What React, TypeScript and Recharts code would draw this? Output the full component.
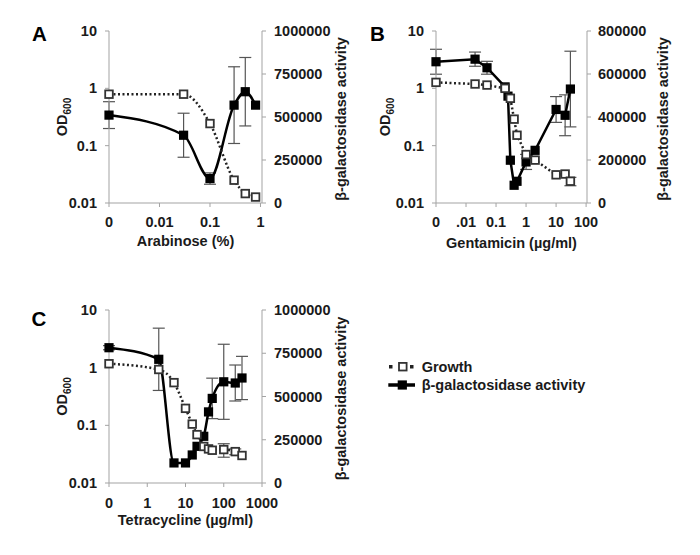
import React from 'react';
import { ComposedChart, Line, XAxis, YAxis, ErrorBar, Legend } from 'recharts';

const FONT = '"Liberation Sans", Arial, Helvetica, sans-serif';
const INK = '#1a1a1a';
const AXIS = '#a3a3a3';
const FS = 14.5;

// ---------- Panel A : Arabinose ----------
const arabinoseConc = [0, 0.03, 0.1, 0.3, 0.5, 0.8];
const arabinoseGrowth = [0.79, 0.79, 0.243, 0.025, 0.0146, 0.0127];
const arabinoseGrowthErr = [0, 0, 0, 0, 0, 0];
const arabinoseBgal = [511000, 394000, 142000, 569000, 647000, 569000];
const arabinoseBgalErr = [78000, 128000, 33000, 223000, 199000, 0];
const arabinoseTickConc = [0, 0.01, 0.1, 1];
const arabinoseTickLabels = ['0', '0.01', '0.1', '1'];

// ---------- Panel B : Gentamicin ----------
const gentaGrowthConc = [0, 0.02, 0.05, 0.2, 0.3, 0.4, 0.5, 1, 2, 10, 20, 30];
const gentaGrowth = [1.27, 1.19, 1.14, 1.0, 0.67, 0.29, 0.152, 0.07, 0.056, 0.031, 0.032, 0.024];
const gentaGrowthErr = [0, 0, 0, 0, 0, 0, 0, 0, 0, 0, 0, 0.004];
const gentaBgalConc = [0, 0.02, 0.05, 0.2, 0.25, 0.3, 0.4, 0.5, 1, 2, 10, 20, 30];
const gentaBgal = [657000, 669000, 629000, 540000, 497000, 199000, 82500, 101000, 191000, 245000, 435000, 408000, 530000];
const gentaBgalErr = [58000, 33000, 30000, 0, 0, 0, 0, 0, 35000, 0, 60000, 95000, 176000];
const gentaTickConc = [0, 0.01, 0.1, 1, 10, 100];
const gentaTickLabels = ['0', '.01', '0.1', '1', '10', '100'];

// ---------- Panel C : Tetracycline ----------
const tetraConc = [0, 2, 5, 10, 15, 20, 30, 40, 50, 100, 200, 300];
const tetraGrowth = [1.17, 0.93, 0.55, 0.197, 0.105, 0.069, 0.043, 0.039, 0.037, 0.038, 0.035, 0.03];
const tetraGrowthErr = [0, 0, 0, 0, 0, 0, 0, 0, 0, 0.01, 0.004, 0];
const tetraBgal = [782000, 715000, 116000, 116000, 162000, 212000, 270000, 411000, 489000, 585000, 578000, 607000];
const tetraBgalErr = [12000, 180000, 0, 0, 0, 0, 0, 0, 117000, 217000, 104000, 125000];
const tetraTickConc = [0, 1, 10, 100, 1000];
const tetraTickLabels = ['0', '1', '10', '100', '1000'];

// ---------- shared axes ----------
const odTicks = [0.01, 0.1, 1, 10];
const bgalTicksA = [0, 250000, 500000, 750000, 1000000];
const bgalTicksB = [0, 200000, 400000, 600000, 800000];

const logPos = (c: number, zeroAt: number) => (c === 0 ? zeroAt : Math.log10(c));

const tickStyle = { fill: INK, fontSize: FS, fontWeight: 'bold', fontFamily: FONT };

const filledSquare = (props: any) => {
  const { cx, cy, index } = props;
  if (cx == null || cy == null) return <g key={`f${index}`} />;
  return <rect key={`f${index}`} x={cx - 4.6} y={cy - 4.6} width={9.2} height={9.2} fill="#000" />;
};

const openSquare = (props: any) => {
  const { cx, cy, index } = props;
  if (cx == null || cy == null) return <g key={`o${index}`} />;
  return (
    <rect key={`o${index}`} x={cx - 3.8} y={cy - 3.8} width={7.6} height={7.6} fill="#fff" stroke="#333" strokeWidth={1.8} />
  );
};

const renderLegend = () => (
  <svg width={240} height={42} style={{ display: 'block', overflow: 'visible' }}>
    <line x1={9} x2={34} y1={10.7} y2={10.7} stroke="#222" strokeWidth={3.5} strokeDasharray="3.5 17.5" />
    <rect x={19} y={6.9} width={7.6} height={7.6} fill="#fff" stroke="#333" strokeWidth={1.8} />
    <text x={41.7} y={16} fill={INK} fontSize={FS} fontWeight="bold" fontFamily={FONT}>Growth</text>
    <line x1={8.3} x2={35} y1={29} y2={29} stroke="#000" strokeWidth={3.5} />
    <rect x={17.7} y={24.4} width={9.2} height={9.2} fill="#000" />
    <text x={41.7} y={34.3} fill={INK} fontSize={FS} fontWeight="bold" fontFamily={FONT}>β-galactosidase activity</text>
  </svg>
);

type PanelProps = {
  left: number; top: number; width: number; height: number;
  plotTop: number; plotBottom: number; leftW: number; rightW: number;
  xDomain: [number, number]; zeroAt: number;
  tickConc: number[]; tickLabels: string[]; xTitle: string;
  growthConc: number[]; growth: number[]; growthErr: number[];
  bgalConc: number[]; bgal: number[]; bgalErr: number[];
  bgalMax: number; bgalTicks: number[];
  curve: 'monotone' | 'linear';
  odTitleX: number; bgalTitleX: number; xTitleY: number;
  xTickMargin: number; rightTickMargin: number;
  withLegend?: boolean;
};

function Panel(p: PanelProps) {
  const growthData = p.growthConc.map((c, i) => ({ x: logPos(c, p.zeroAt), y: p.growth[i], err: p.growthErr[i] }));
  const bgalData = p.bgalConc.map((c, i) => ({ x: logPos(c, p.zeroAt), y: p.bgal[i], err: p.bgalErr[i] }));
  const tickPos = p.tickConc.map((c) => logPos(c, p.zeroAt));
  const fmtX = (v: number) => {
    const i = tickPos.findIndex((t) => Math.abs(t - v) < 1e-6);
    return i >= 0 ? p.tickLabels[i] : '';
  };
  const midY = (p.plotTop + p.plotBottom) / 2;
  const plotRight = p.width - p.rightW;
  const midX = (p.leftW + plotRight) / 2;

  const odTitle = () => (
    <text
      x={p.odTitleX}
      y={midY}
      transform={`rotate(-90 ${p.odTitleX} ${midY})`}
      textAnchor="middle"
      fill={INK}
      fontSize={FS}
      fontWeight="bold"
      fontFamily={FONT}
    >
      OD<tspan fontSize={10} dy={4}>600</tspan>
    </text>
  );
  const bgalTitle = () => (
    <text
      x={p.bgalTitleX}
      y={midY + 2}
      transform={`rotate(-90 ${p.bgalTitleX} ${midY + 2})`}
      textAnchor="middle"
      fill={INK}
      fontSize={FS}
      fontWeight="bold"
      fontFamily={FONT}
    >
      β-galactosidase activity
    </text>
  );
  const xTitle = () => (
    <text x={midX} y={p.xTitleY} textAnchor="middle" fill={INK} fontSize={FS} fontWeight="bold" fontFamily={FONT}>
      {p.xTitle}
    </text>
  );

  return (
    <div style={{ position: 'absolute', left: p.left, top: p.top }}>
      <ComposedChart width={p.width} height={p.height} margin={{ top: p.plotTop, right: 0, bottom: 0, left: 0 }}>
        <XAxis
          type="number"
          dataKey="x"
          domain={p.xDomain}
          ticks={tickPos}
          tickFormatter={fmtX}
          interval={0}
          height={p.height - p.plotBottom}
          axisLine={{ stroke: AXIS }}
          tickLine={{ stroke: AXIS }}
          tickSize={4}
          tickMargin={p.xTickMargin}
          tick={tickStyle}
          label={{ content: xTitle }}
        />
        <YAxis
          yAxisId="od"
          orientation="left"
          scale="log"
          domain={[0.01, 10]}
          ticks={odTicks}
          tickFormatter={(v: number) => String(v)}
          interval={0}
          width={p.leftW}
          axisLine={{ stroke: AXIS }}
          tickLine={{ stroke: AXIS }}
          tickSize={4}
          tickMargin={8}
          tick={tickStyle}
          label={{ content: odTitle }}
        />
        <YAxis
          yAxisId="bgal"
          orientation="right"
          domain={[0, p.bgalMax]}
          ticks={p.bgalTicks}
          tickFormatter={(v: number) => String(v)}
          interval={0}
          width={p.rightW}
          axisLine={{ stroke: AXIS }}
          tickLine={{ stroke: AXIS }}
          tickSize={4}
          tickMargin={p.rightTickMargin}
          tick={tickStyle}
          label={{ content: bgalTitle }}
        />
        <Line
          yAxisId="bgal"
          data={bgalData}
          dataKey="y"
          name="β-galactosidase activity"
          type={p.curve}
          stroke="#000"
          strokeWidth={2.5}
          dot={filledSquare}
          activeDot={false}
          isAnimationActive={false}
        >
          <ErrorBar dataKey="err" width={6} stroke="#555" strokeWidth={1.2} direction="y" />
        </Line>
        <Line
          yAxisId="od"
          data={growthData}
          dataKey="y"
          name="Growth"
          type={p.curve}
          stroke="#222"
          strokeWidth={2.5}
          strokeDasharray="2 2.5"
          dot={openSquare}
          activeDot={false}
          isAnimationActive={false}
        >
          <ErrorBar dataKey="err" width={6} stroke="#555" strokeWidth={1.2} direction="y" />
        </Line>
        {p.withLegend && (
          <Legend
            layout="horizontal"
            verticalAlign="middle"
            align="center"
            content={renderLegend}
            wrapperStyle={{ left: 380, top: 76, width: 240, height: 42 }}
          />
        )}
      </ComposedChart>
    </div>
  );
}

export default function App() {
  return (
    <div style={{ position: 'absolute', left: 0, top: 0, width: 700, height: 555, background: '#fff', fontFamily: FONT }}>
      <Panel
        left={0} top={0} width={350} height={260}
        plotTop={31} plotBottom={203} leftW={109} rightW={88}
        xDomain={[-3, 0.03]} zeroAt={-3}
        tickConc={arabinoseTickConc} tickLabels={arabinoseTickLabels} xTitle="Arabinose (%)"
        growthConc={arabinoseConc} growth={arabinoseGrowth} growthErr={arabinoseGrowthErr}
        bgalConc={arabinoseConc} bgal={arabinoseBgal} bgalErr={arabinoseBgalErr}
        bgalMax={1000000} bgalTicks={bgalTicksA}
        curve="monotone"
        odTitleX={67} bgalTitleX={346} xTitleY={246}
        xTickMargin={10} rightTickMargin={8}
      />
      <Panel
        left={350} top={0} width={350} height={260}
        plotTop={31} plotBottom={203} leftW={86} rightW={113}
        xDomain={[-3, 2.03]} zeroAt={-3}
        tickConc={gentaTickConc} tickLabels={gentaTickLabels} xTitle="Gentamicin (µg/ml)"
        growthConc={gentaGrowthConc} growth={gentaGrowth} growthErr={gentaGrowthErr}
        bgalConc={gentaBgalConc} bgal={gentaBgal} bgalErr={gentaBgalErr}
        bgalMax={800000} bgalTicks={bgalTicksB}
        curve="linear"
        odTitleX={40} bgalTitleX={318} xTitleY={248}
        xTickMargin={10} rightTickMargin={7}
      />
      <Panel
        left={0} top={280} width={350} height={275}
        plotTop={30} plotBottom={203} leftW={109} rightW={88}
        xDomain={[-1, 3]} zeroAt={-1}
        tickConc={tetraTickConc} tickLabels={tetraTickLabels} xTitle="Tetracycline (µg/ml)"
        growthConc={tetraConc} growth={tetraGrowth} growthErr={tetraGrowthErr}
        bgalConc={tetraConc} bgal={tetraBgal} bgalErr={tetraBgalErr}
        bgalMax={1000000} bgalTicks={bgalTicksA}
        curve="monotone"
        odTitleX={67} bgalTitleX={346} xTitleY={245}
        xTickMargin={11} rightTickMargin={8}
        withLegend
      />
      <svg width={700} height={555} style={{ position: 'absolute', left: 0, top: 0, pointerEvents: 'none' }}>
        <text x={39.5} y={40.6} textAnchor="middle" fill="#000" fontSize={20.5} fontWeight="bold" fontFamily={FONT}>A</text>
        <text x={377.5} y={40.6} textAnchor="middle" fill="#000" fontSize={20.5} fontWeight="bold" fontFamily={FONT}>B</text>
        <text x={39} y={326.3} textAnchor="middle" fill="#000" fontSize={20.5} fontWeight="bold" fontFamily={FONT}>C</text>
      </svg>
    </div>
  );
}
